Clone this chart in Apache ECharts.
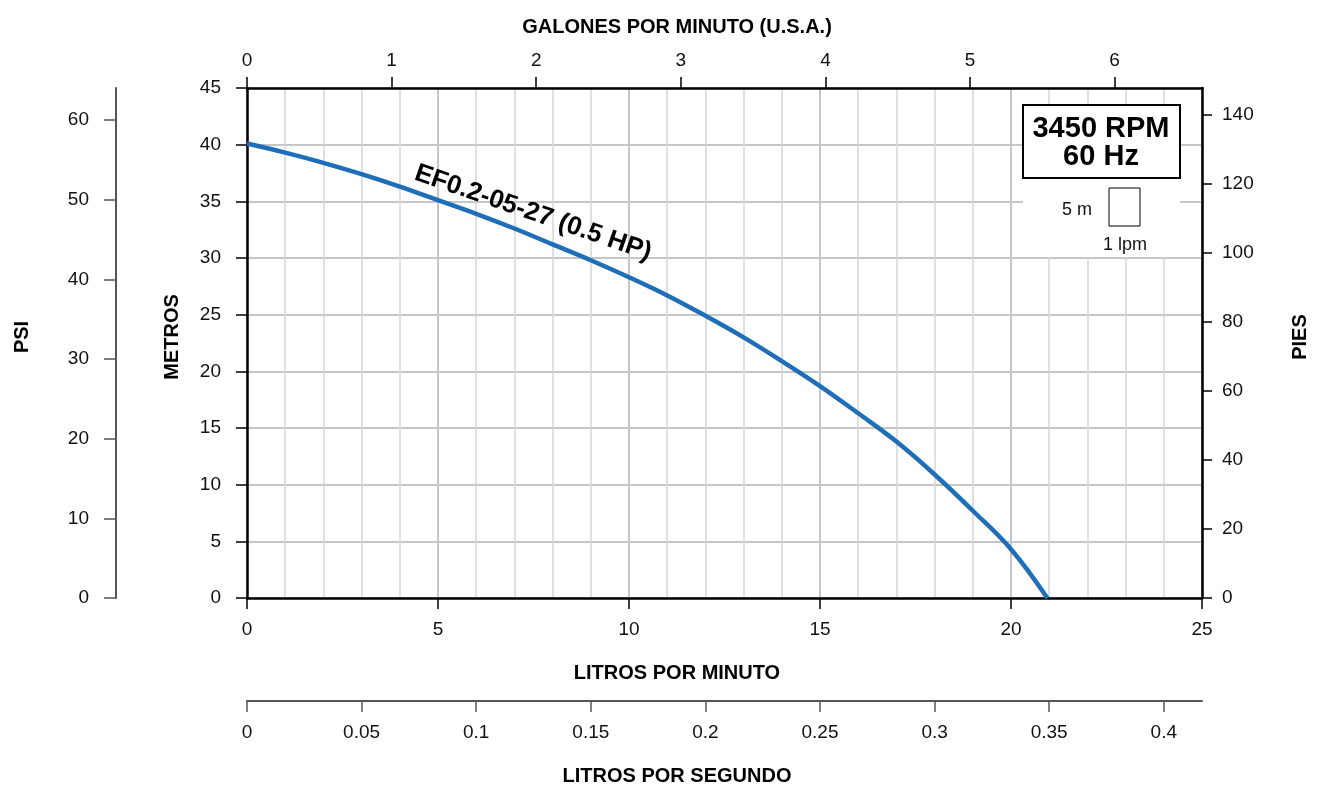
<!DOCTYPE html>
<html>
<head>
<meta charset="utf-8">
<title>EF0.2-05-27</title>
<script src="https://cdn.jsdelivr.net/npm/echarts@6/dist/echarts.min.js"></script>
<style>
html, body { margin: 0; padding: 0; background: #fff; }
#main { width: 1324px; height: 787px; }
</style>
</head>
<body>
<div id="main"></div>
<script>
// curva de la bomba: litros por minuto -> metros
var lpm = [0, 1, 2, 3, 4, 5, 6, 7, 8, 9, 10, 11, 12, 13, 14, 15, 16, 17, 18, 19, 20, 20.95];
var metros = [40.1, 39.3, 38.4, 37.4, 36.3, 35.1, 33.9, 32.6, 31.2, 29.8, 28.3, 26.7, 24.9, 23.0, 20.9, 18.7, 16.3, 13.8, 10.9, 7.7, 4.3, 0];

// marcas de los ejes secundarios
var gpmTicks = [0, 1, 2, 3, 4, 5, 6];
var piesTicks = [0, 20, 40, 60, 80, 100, 120, 140];
var psiTicks = [0, 10, 20, 30, 40, 50, 60];
var lpsTicks = [0, 0.05, 0.1, 0.15, 0.2, 0.25, 0.3, 0.35, 0.4];

var LPM_MAX = 25, M_MAX = 45;
var FONT = "'Liberation Sans', Arial, sans-serif";

var curve = [];
for (var i = 0; i < lpm.length; i++) curve.push([lpm[i], metros[i]]);

var lbl = { color: '#111', fontSize: 19, fontFamily: FONT };

option = {
    animation: false,
    backgroundColor: '#fff',
    grid: [
        { left: 247, top: 88, width: 955, height: 510 },
        { left: 116, top: 88, width: 1, height: 510 },
        { left: 247, top: 690, width: 955, height: 11 }
    ],
    xAxis: [
        {
            type: 'value', gridIndex: 0, position: 'bottom',
            min: 0, max: LPM_MAX, interval: 5,
            axisLine: { onZero: false, lineStyle: { color: '#000', width: 2.5 } },
            axisTick: { length: 11, lineStyle: { color: '#000', width: 1.5 } },
            axisLabel: Object.assign({ margin: 22 }, lbl),
            splitLine: { show: true, lineStyle: { color: '#c6c6c6', width: 2 } },
            minorTick: { show: false, splitNumber: 5 },
            minorSplitLine: { show: true, lineStyle: { color: '#d6d6d6', width: 1.5 } }
        },
        {
            type: 'value', gridIndex: 0, position: 'top',
            min: 0, max: LPM_MAX / 3.785411784,
            axisLine: { onZero: false, lineStyle: { color: '#000', width: 2.5 } },
            axisTick: { length: 11, customValues: gpmTicks, lineStyle: { color: '#000', width: 1.5 } },
            axisLabel: Object.assign({ margin: 18, customValues: gpmTicks }, lbl),
            splitLine: { show: false }
        },
        {
            type: 'value', gridIndex: 1, min: 0, max: 1, show: false
        },
        {
            type: 'value', gridIndex: 2, position: 'bottom',
            min: 0, max: LPM_MAX / 60,
            axisLine: { onZero: false, lineStyle: { color: '#555', width: 2 } },
            axisTick: { length: 11, customValues: lpsTicks, lineStyle: { color: '#555', width: 1.5 } },
            axisLabel: Object.assign({ margin: 22, customValues: lpsTicks }, lbl),
            splitLine: { show: false }
        }
    ],
    yAxis: [
        {
            type: 'value', gridIndex: 0, position: 'left',
            min: 0, max: M_MAX, interval: 5,
            axisLine: { show: true, onZero: false, lineStyle: { color: '#000', width: 2.5 } },
            axisTick: { show: true, length: 11, lineStyle: { color: '#000', width: 1.5 } },
            axisLabel: Object.assign({ margin: 26 }, lbl),
            splitLine: { show: true, lineStyle: { color: '#c6c6c6', width: 2 } }
        },
        {
            type: 'value', gridIndex: 0, position: 'right',
            min: 0, max: M_MAX * 3.28084,
            axisLine: { show: true, onZero: false, lineStyle: { color: '#000', width: 2.5 } },
            axisTick: { show: true, length: 10, customValues: piesTicks, lineStyle: { color: '#000', width: 1.5 } },
            axisLabel: Object.assign({ margin: 20, customValues: piesTicks }, lbl),
            splitLine: { show: false }
        },
        {
            type: 'value', gridIndex: 1, position: 'left',
            min: 0, max: M_MAX * 1.42233,
            axisLine: { show: true, onZero: false, lineStyle: { color: '#555', width: 2 } },
            axisTick: { show: true, length: 12, customValues: psiTicks, lineStyle: { color: '#555', width: 1.5 } },
            axisLabel: Object.assign({ margin: 27, customValues: psiTicks }, lbl),
            splitLine: { show: false }
        },
        {
            type: 'value', gridIndex: 2, min: 0, max: 1, show: false
        }
    ],
    series: [
        {
            name: 'EF0.2-05-27 (0.5 HP)',
            type: 'line',
            xAxisIndex: 0,
            yAxisIndex: 0,
            data: curve,
            smooth: 0.4,
            symbol: 'none',
            lineStyle: { color: '#1f6fb8', width: 4.5 },
            z: 5
        }
    ],
    graphic: [
        // fondo blanco del cuadro de escala
        { type: 'rect', z: 10, shape: { x: 1023, y: 105, width: 157, height: 152 }, style: { fill: '#fff' } },
        { type: 'rect', z: 11, shape: { x: 1023, y: 105, width: 157, height: 73 }, style: { fill: '#fff', stroke: '#000', lineWidth: 2 } },
        { type: 'text', z: 12, x: 1101, y: 129, style: { text: '3450 RPM', font: 'bold 29px ' + FONT, fill: '#000', textAlign: 'center', textVerticalAlign: 'middle' } },
        { type: 'text', z: 12, x: 1101, y: 157, style: { text: '60 Hz', font: 'bold 29px ' + FONT, fill: '#000', textAlign: 'center', textVerticalAlign: 'middle' } },
        { type: 'rect', z: 11, shape: { x: 1109, y: 188, width: 31, height: 38 }, style: { fill: '#fff', stroke: '#000', lineWidth: 1 } },
        { type: 'text', z: 12, x: 1092, y: 210, style: { text: '5 m', font: '18px ' + FONT, fill: '#111', textAlign: 'right', textVerticalAlign: 'middle' } },
        { type: 'text', z: 12, x: 1125, y: 245, style: { text: '1 lpm', font: '18px ' + FONT, fill: '#111', textAlign: 'center', textVerticalAlign: 'middle' } },
        // etiqueta de la curva
        { type: 'text', z: 12, x: 533, y: 213, rotation: -19 * Math.PI / 180, style: { text: 'EF0.2-05-27 (0.5 HP)', font: 'bold 26px ' + FONT, fill: '#000', textAlign: 'center', textVerticalAlign: 'middle' } },
        // títulos de ejes
        { type: 'text', x: 677, y: 27, style: { text: 'GALONES POR MINUTO (U.S.A.)', font: 'bold 20px ' + FONT, fill: '#000', textAlign: 'center', textVerticalAlign: 'middle' } },
        { type: 'text', x: 677, y: 673, style: { text: 'LITROS POR MINUTO', font: 'bold 20px ' + FONT, fill: '#000', textAlign: 'center', textVerticalAlign: 'middle' } },
        { type: 'text', x: 677, y: 776, style: { text: 'LITROS POR SEGUNDO', font: 'bold 20px ' + FONT, fill: '#000', textAlign: 'center', textVerticalAlign: 'middle' } },
        { type: 'text', x: 22, y: 337, rotation: Math.PI / 2, style: { text: 'PSI', font: 'bold 20px ' + FONT, fill: '#000', textAlign: 'center', textVerticalAlign: 'middle' } },
        { type: 'text', x: 172, y: 337, rotation: Math.PI / 2, style: { text: 'METROS', font: 'bold 20px ' + FONT, fill: '#000', textAlign: 'center', textVerticalAlign: 'middle' } },
        { type: 'text', x: 1300, y: 337, rotation: Math.PI / 2, style: { text: 'PIES', font: 'bold 20px ' + FONT, fill: '#000', textAlign: 'center', textVerticalAlign: 'middle' } }
    ]
};

var myChart = echarts.init(document.getElementById('main'));
myChart.setOption(option);
</script>
</body>
</html>
